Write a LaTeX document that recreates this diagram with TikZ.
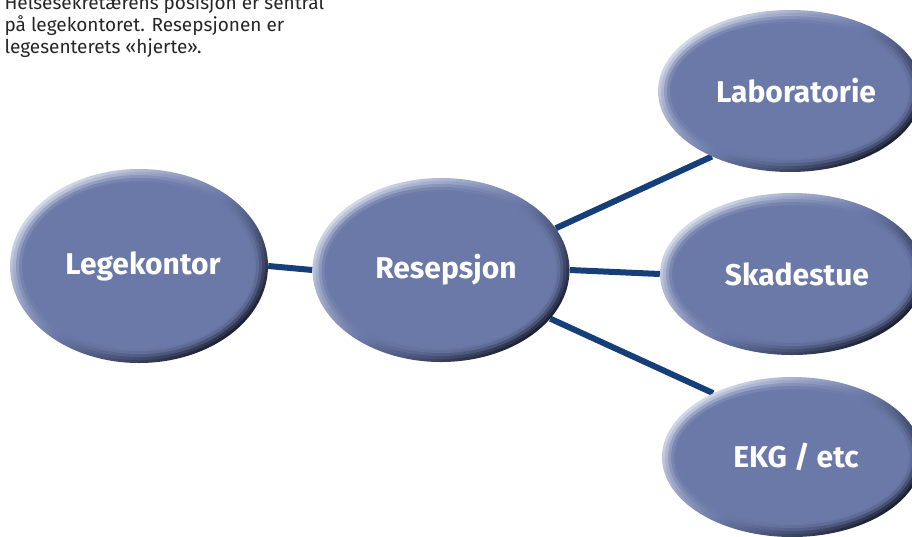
\documentclass[tikz,border=0pt]{standalone}
\usepackage{fontspec}
\setmainfont{Fira Sans}
\usetikzlibrary{shapes.geometric, backgrounds, calc}

\definecolor{bubblefill}{RGB}{106,121,168}
\definecolor{bubblelight}{RGB}{212,217,233}
\definecolor{bubbledark}{RGB}{28,32,50}
\definecolor{linkblue}{RGB}{22,62,120}

\begin{document}
\begin{tikzpicture}[x=1pt, y=-1pt,
    bubble/.style={ellipse, inner sep=0pt, text=white,
        font=\fontsize{30}{34}\selectfont\bfseries,
        top color=bubblelight, bottom color=bubbledark, middle color=bubblefill, shading angle=40,
        path picture={
            \foreach \d/\o in {3/0.2, 6/0.4, 9/0.6, 12/0.8, 14/1} {
                \fill[bubblefill, opacity=\o] let \p1 = ($(path picture bounding box.north east)-(path picture bounding box.center)$) in
                    (path picture bounding box.center) ellipse [x radius=\x1-\d pt, y radius=\y1-\d pt];
            }
        }},
    link/.style={draw=linkblue, line width=6pt}]
        \clip (0,0) rectangle (912,536);

        \node at (1,53) [anchor=base west, align=left, text=black!85, font=\fontsize{19}{22}\selectfont] (caption)
            {Helsesekretærens posisjon er sentral\\på legekontoret. Resepsjonen er\\legesenterets «hjerte».};

        \node at (139,266) [bubble, minimum width=258pt, minimum height=194pt] (leg) {\hspace{8pt}Legekontor};
        \node at (441,270) [bubble, minimum width=257pt, minimum height=184pt] (res) {\hspace{10pt}Resepsjon};
        \node at (790,91)  [bubble, minimum width=264pt, minimum height=162pt] (lab) {\hspace{12pt}Laboratorie};
        \node at (792,274) [bubble, minimum width=264pt, minimum height=162pt] (skad) {\hspace{10pt}Skadestue};
        \node at (792,457) [bubble, minimum width=260pt, minimum height=160pt] (ekg) {\hspace{8pt}EKG / etc};

        \begin{scope}[on background layer]
            \draw[link] (leg.east) -- (res.west);
            \draw[link] (res.east) -- (skad.west);
            \draw[link] (res.20)   -- (lab.220);
            \draw[link] (res.-24)  -- (ekg.141);
        \end{scope}
    \end{tikzpicture}
\end{document}
